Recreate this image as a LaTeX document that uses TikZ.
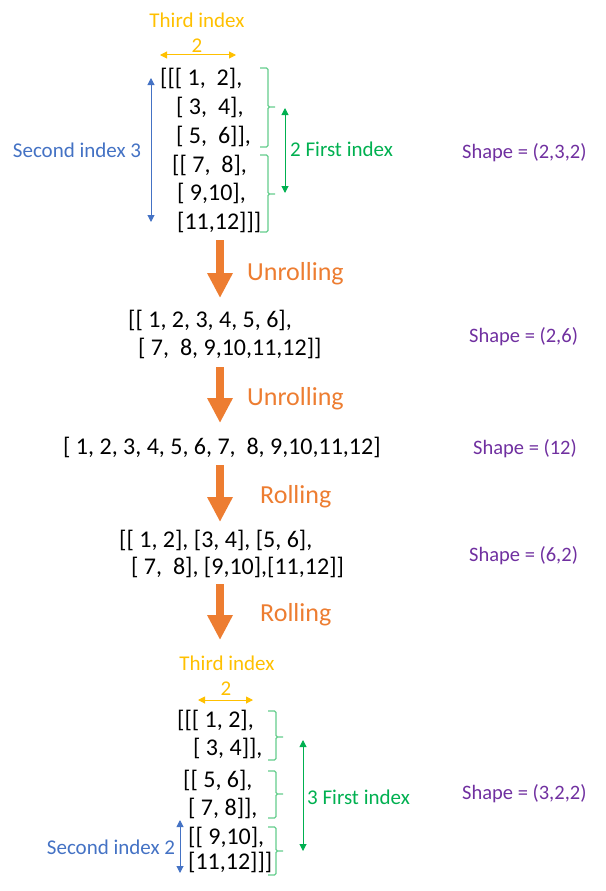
\documentclass[tikz,border=0pt]{standalone}
\usepackage{fontspec}
\setmainfont{Carlito}
\usepackage{tikz}
\usetikzlibrary{arrows.meta}
\definecolor{officeorange}{RGB}{237,125,49}
\definecolor{officegold}{RGB}{255,192,0}
\definecolor{officeblue}{RGB}{68,114,196}
\definecolor{officegreen}{RGB}{0,176,80}
\definecolor{bracegreen}{RGB}{100,205,140}
\definecolor{shapepurple}{RGB}{112,48,160}
% right brace: x of spine, top, tip, bottom
\newcommand{\sidebrace}[4]{%
  \draw[curly] (#1-8,#2) -| (#1,#3) -- (#1+7,#3)
               (#1-8,#4) -| (#1,#3) -- (#1+7,#3);}

\begin{document}
\begin{tikzpicture}[x=1pt,y=-1pt,
  row/.style={anchor=west,inner sep=0pt,font=\fontsize{24}{28}\selectfont},
  note/.style={inner sep=0pt,font=\fontsize{21}{25}\selectfont},
  shapelbl/.style={anchor=west,inner sep=0pt,text=shapepurple,font=\fontsize{20.5}{24}\selectfont},
  steplbl/.style={anchor=west,inner sep=0pt,text=officeorange,font=\fontsize{26}{30}\selectfont},
  bigarrow/.style={officeorange,line width=8pt,-{Triangle[length=25pt,width=24pt]}},
  dimarrow/.style={line width=1pt,{Triangle[length=7pt,width=7pt]}-{Triangle[length=7pt,width=7pt]}},
  curly/.style={bracegreen,line width=1.2pt,rounded corners=1.5pt}]
  \useasboundingbox (0,0) rectangle (605,891);

  % shape (2,3,2)
  \node[note,text=officegold] (third1) at (197,20) {Third index};
  \node[note,text=officegold] (two1) at (197,46) {2};
  \coordinate (g1a) at (160,55); \coordinate (g1b) at (236,55);
  \draw[dimarrow,officegold] (g1a) -- (g1b);
  \node[row] (a1) at (160,78) {[[[ 1,~ 2],};
  \node[row] (a2) at (176,107) {[ 3,~ 4],};
  \node[row] (a3) at (176,136) {[ 5,~ 6]],};
  \node[row] (a4) at (172,165) {[[ 7,~ 8],};
  \node[row] (a5) at (177,193) {[ 9,10],};
  \node[row] (a6) at (177,222) {[11,12]]]};
  \coordinate (b1a) at (151,78); \coordinate (b1b) at (151,222);
  \draw[dimarrow,officeblue] (b1a) -- (b1b);
  \node[note,text=officeblue] (second1) at (77,150) {Second index 3};
  \sidebrace{268}{68}{107}{147}
  \sidebrace{268}{155}{194}{232}
  \coordinate (f1a) at (285,108); \coordinate (f1b) at (285,193);
  \draw[dimarrow,officegreen] (f1a) -- (f1b);
  \node[note,anchor=west,text=officegreen] (first1) at (290,149) {2 First index};
  \node[shapelbl] (shape1) at (462,153) {Shape = (2,3,2)};

  \coordinate (s1a) at (220,240); \coordinate (s1b) at (220,298);
  \draw[bigarrow] (s1a) -- (s1b);
  \node[steplbl] (unroll1) at (247,274) {Unrolling};

  % shape (2,6)
  \node[row] (d1) at (128,320) {[[ 1, 2, 3, 4, 5, 6],};
  \node[row] (d2) at (138,348) {[ 7,~ 8, 9,10,11,12]]};
  \node[shapelbl] (shape2) at (469,337) {Shape = (2,6)};

  \coordinate (s2a) at (220,367); \coordinate (s2b) at (220,423);
  \draw[bigarrow] (s2a) -- (s2b);
  \node[steplbl] (unroll2) at (247,399) {Unrolling};

  % shape (12)
  \node[row] (e1) at (63,447) {[ 1, 2, 3, 4, 5, 6, 7,~ 8, 9,10,11,12]};
  \node[shapelbl] (shape3) at (473,449) {Shape = (12)};

  \coordinate (s3a) at (220,465); \coordinate (s3b) at (220,522);
  \draw[bigarrow] (s3a) -- (s3b);
  \node[steplbl] (roll1) at (260,497) {Rolling};

  % shape (6,2)
  \node[row] (h1) at (119,540) {[[ 1, 2], [3, 4], [5, 6],};
  \node[row] (h2) at (131,567) {[ 7,~ 8], [9,10],[11,12]]};
  \node[shapelbl] (shape4) at (469,556) {Shape = (6,2)};

  \coordinate (s4a) at (220,584); \coordinate (s4b) at (220,640);
  \draw[bigarrow] (s4a) -- (s4b);
  \node[steplbl] (roll2) at (260,615) {Rolling};

  % shape (3,2,2)
  \node[note,text=officegold] (third2) at (227,663) {Third index};
  \node[note,text=officegold] (two2) at (226,689) {2};
  \coordinate (g2a) at (198,700); \coordinate (g2b) at (253,700);
  \draw[dimarrow,officegold] (g2a) -- (g2b);
  \node[row] (k1) at (177,720) {[[[ 1, 2],};
  \node[row] (k2) at (193,748) {[ 3, 4]],};
  \node[row] (k3) at (183,780) {[[ 5, 6],};
  \node[row] (k4) at (188,808) {[ 7, 8]],};
  \node[row] (k5) at (188,837) {[[ 9,10],};
  \node[row] (k6) at (188,862) {[11,12]]]};
  \sidebrace{276}{711}{737}{760}
  \sidebrace{276}{771}{794}{818}
  \sidebrace{276}{827}{851}{875}
  \coordinate (f2a) at (303,740); \coordinate (f2b) at (303,851);
  \draw[dimarrow,officegreen] (f2a) -- (f2b);
  \node[note,anchor=west,text=officegreen] (first2) at (307,797) {3 First index};
  \coordinate (b2a) at (180,820); \coordinate (b2b) at (180,873);
  \draw[dimarrow,officeblue] (b2a) -- (b2b);
  \node[note,text=officeblue] (second2) at (111,847) {Second index 2};
  \node[shapelbl] (shape5) at (462,794) {Shape = (3,2,2)};
\end{tikzpicture}
\end{document}
